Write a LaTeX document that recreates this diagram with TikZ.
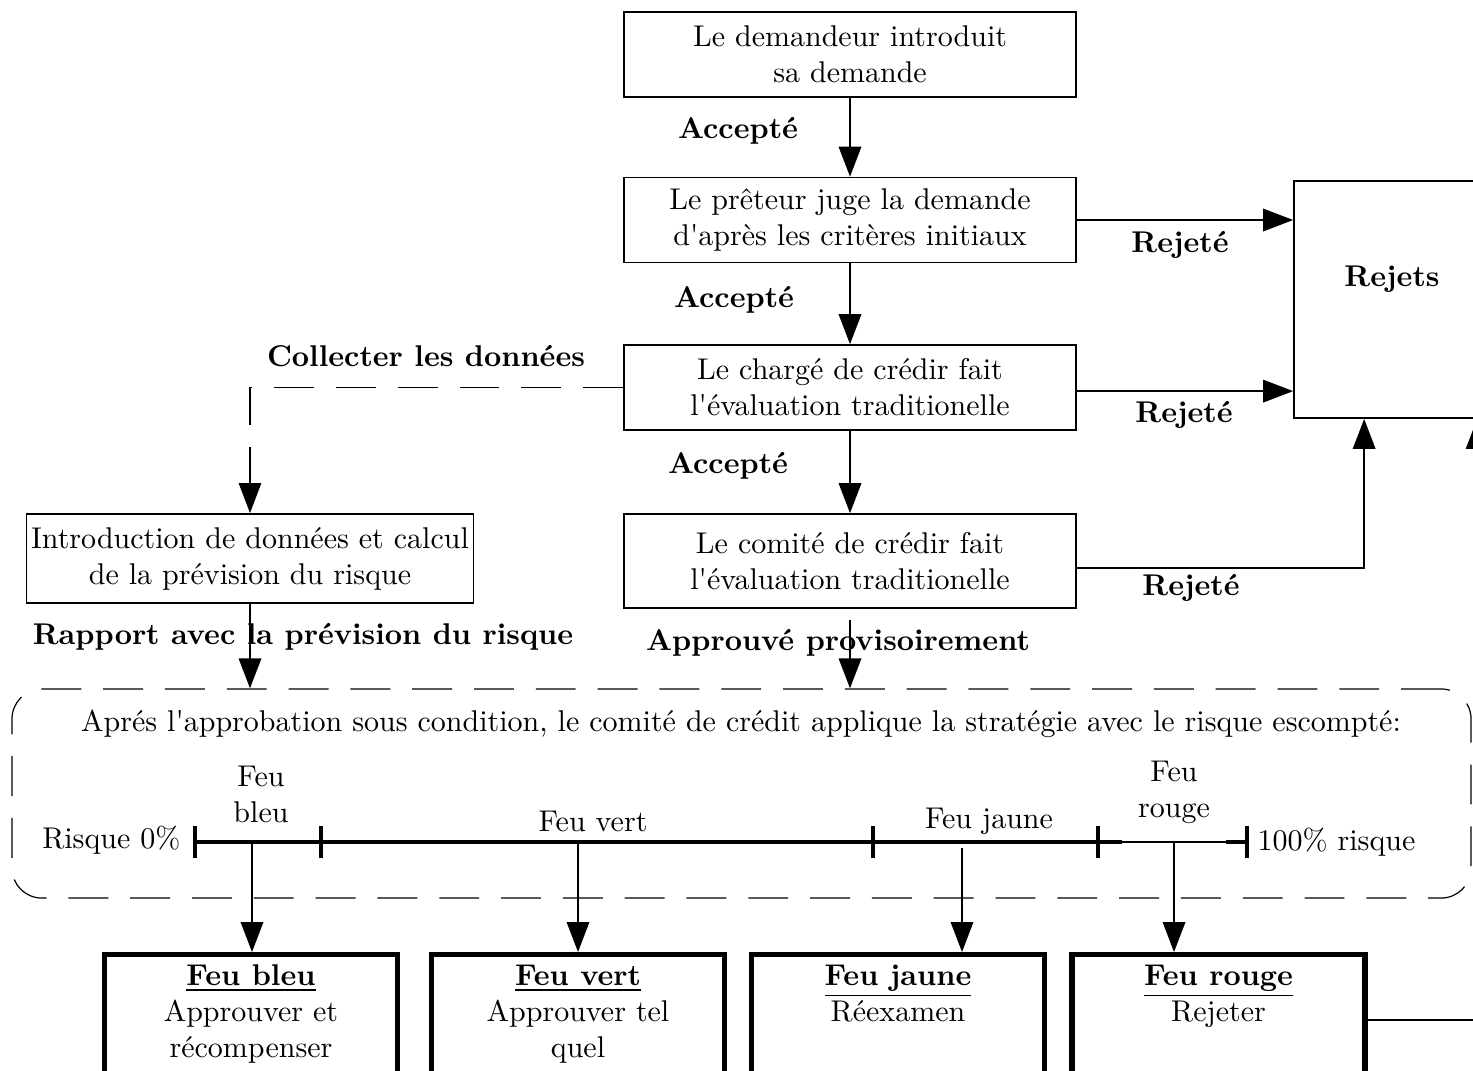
\documentclass[tikz,border=0pt]{standalone}
\usepackage{tikz}
\usetikzlibrary{arrows.meta,calc}

\newcommand{\feutext}[2]{\parbox[t]{91pt}{\centering\underline{\textbf{#1}}\\#2}}

\tikzset{
  stepbox/.style={draw, line width=0.6pt, minimum width=150.7pt, minimum height=28.3pt, align=center, inner sep=1pt},
  lightbox/.style={draw, line width=1.7pt, text height=7pt, text depth=36pt, anchor=north},
  lbl/.style={font=\bfseries},
  arr/.style={line width=0.6pt, -{Triangle[length=10pt,width=7.5pt]}},
  dashline/.style={line width=0.4pt, dash pattern=on 13.3pt off 7.3pt},
  tickmark/.style={line width=1.3pt}
}

\begin{document}
\begin{tikzpicture}[x=0.3333pt,y=0.3333pt,yscale=-1,xscale=1]
    \useasboundingbox (0,0) rectangle (1473,1070);
    \clip (0,0) rectangle (1473,1070);

    %Shape: steps of the demand
    \node[stepbox] (dem) at (850,54.5) {Le demandeur introduit\\sa demande};
    \node[stepbox] (pret) at (850,220) {Le prêteur juge la demande\\d\textquotesingle après les critères initiaux};
    \node[stepbox] (charge) at (850,387.5) {Le chargé de crédir fait\\l\textquotesingle évaluation traditionelle};
    \node[stepbox, minimum height=31.3pt] (comite) at (850,561) {Le comité de crédir fait\\l\textquotesingle évaluation traditionelle};
    \node[stepbox, minimum width=149pt, minimum height=29.7pt] (intro) at (250,558.5) {Introduction de données et calcul\\de la prévision du risque};
    %Shape: Rejets
    \node[stepbox, minimum width=65.3pt, minimum height=79pt, text height=7pt, text depth=15.6pt, font=\bfseries] (rej) at (1392,299.5) {Rejets};

    %Shape: strategy frame
    \node[draw, dashline, rounded corners=10pt, minimum width=486.3pt, minimum height=69.7pt] (strat) at (741.5,793.5) {};

    % Text Node
    \node[lbl] (acc1) at (738,131) {Accepté};
    \node[lbl] (acc2) at (734,300) {Accepté};
    \node[lbl] (acc3) at (728,466) {Accepté};
    \node[lbl] (rj1) at (1180,245) {Rejeté};
    \node[lbl] (rj2) at (1184,415) {Rejeté};
    \node[lbl] (rj3) at (1191,588) {Rejeté};
    \node[lbl] (coll) at (426,356) {Collecter les données};
    \node[lbl] (rapp) at (303,637) {Rapport avec la prévision du risque};
    \node[lbl] (appr) at (838,643) {Approuvé provisoirement};
    \node (apres) at (741,724) {Aprés l\textquotesingle approbation sous condition, le comité de crédit applique la stratégie avec le risque escompté:};

    %Lines: flow of the demand
    \draw[arr] (dem) -- (pret);
    \draw[arr] (pret) -- (charge);
    \draw[arr] (charge) -- (comite);
    \draw[arr] (pret.east) -- (pret.east -| rej.west);
    \draw[arr] ([yshift=1.2pt]charge.east) -- ([yshift=1.2pt]charge.east -| rej.west);
    \coordinate (rejin1) at ($(rej.south west)+(71,0)$);
    \draw[arr] ([yshift=2.3pt]comite.east) -| (rejin1);
    \draw[arr, dashline] (charge.west) -| (intro.north);
    \draw[arr] (intro.south) -- (intro.south |- strat.north);
    \draw[arr] ([yshift=3.6pt]comite.south) -- (comite.south |- strat.north);

    %Shape: risk scale
    \coordinate (t0) at (195,842);
    \coordinate (t1) at (321,842);
    \coordinate (t2) at (873,842);
    \coordinate (t3) at (1098,842);
    \coordinate (t4) at (1247,842);
    \draw[line width=1.2pt] (t0) -- (1122,842);
    \draw[line width=0.6pt] (1122,842) -- (1226,842);
    \draw[line width=1.2pt] (1226,842) -- (t4);
    \foreach \t in {t0,t1,t2,t3,t4}
        \draw[tickmark] ($(\t)+(0,-16)$) -- ($(\t)+(0,16)$);

    % Text Node
    \node[anchor=east] (risk0) at (191,840) {Risque 0\%};
    \node[align=center] (lbleu) at (261,794) {Feu\\bleu};
    \node (lvert) at (593,821) {Feu vert};
    \node (ljaune) at (989,821) {Feu jaune};
    \node[align=center] (lrouge) at (1174,792) {Feu\\rouge};
    \node[anchor=west] (risk100) at (1247,842) {100\% risque};

    %Shape: decisions
    \node[lightbox] (cbleu) at (251,952) {\feutext{Feu bleu}{Approuver et\\récompenser}};
    \node[lightbox] (cvert) at (578,952) {\feutext{Feu vert}{Approuver tel\\quel}};
    \node[lightbox] (cjaune) at (898,952) {\feutext{Feu jaune}{Réexamen}};
    \node[lightbox] (crouge) at (1218.5,952) {\feutext{Feu rouge}{Rejeter}};

    \coordinate (pbleu) at (252,842);
    \coordinate (pvert) at (578,842);
    \coordinate (pjaune) at (962,848);
    \coordinate (prouge) at (1174,842);
    \draw[arr] (pbleu) -- (pbleu |- cbleu.north);
    \draw[arr] (pvert) -- (pvert |- cvert.north);
    \draw[arr] (pjaune) -- (pjaune |- cjaune.north);
    \draw[arr] (prouge) -- (prouge |- crouge.north);

    \coordinate (rout) at ($(crouge.north east)+(0,68)$);
    \coordinate (rejin2) at ($(rej.south west)+(184,0)$);
    \draw[arr] (rout) -| (rejin2);

\end{tikzpicture}
\end{document}
